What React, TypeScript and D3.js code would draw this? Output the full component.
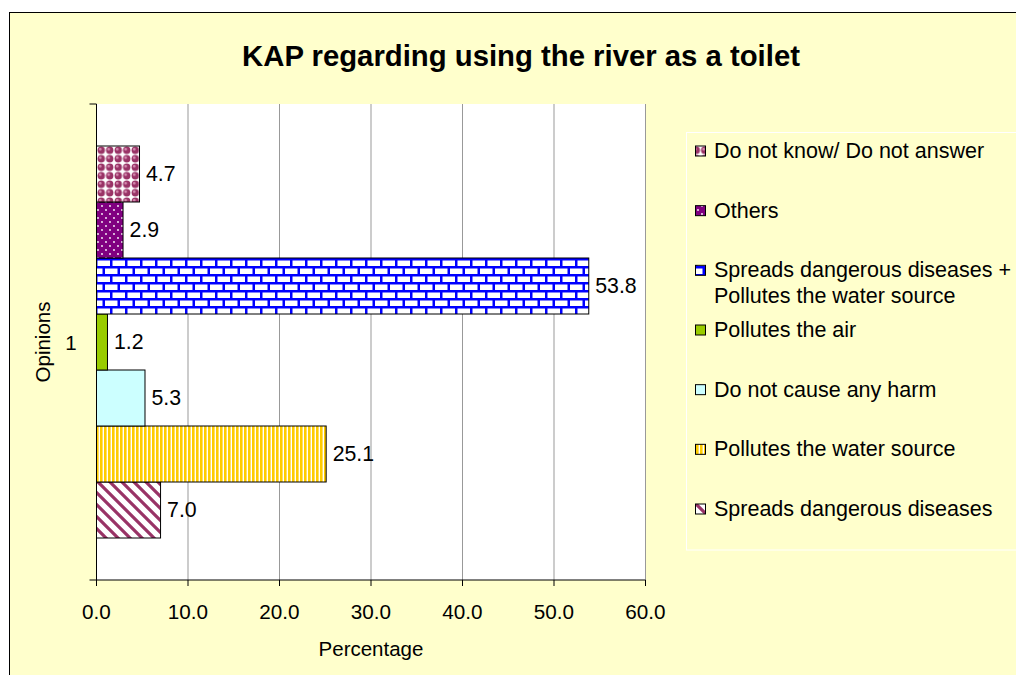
import React from "react";
import * as d3 from "d3";

// Opinion series, listed in plotting order (bottom bar first)
const seriesNames: string[] = [
  "Spreads dangerous diseases",
  "Pollutes the water source",
  "Do not cause any harm",
  "Pollutes the air",
  "Spreads dangerous diseases + Pollutes the water source",
  "Others",
  "Do not know/ Do not answer",
];
const seriesValues: number[] = [7.0, 25.1, 5.3, 1.2, 53.8, 2.9, 4.7];
const seriesFills: string[] = [
  "url(#pDiag)",
  "url(#pVert)",
  "#CCFFFF",
  "#99CC00",
  "url(#pBrick)",
  "url(#pDots)",
  "url(#pSphere)",
];
// Legend label lines per series
const legendLines: string[][] = [
  ["Spreads dangerous diseases"],
  ["Pollutes the water source"],
  ["Do not cause any harm"],
  ["Pollutes the air"],
  ["Spreads dangerous diseases +", "Pollutes the water source"],
  ["Others"],
  ["Do not know/ Do not answer"],
];
const categories: string[] = ["1"];
const xTicks: number[] = [0, 10, 20, 30, 40, 50, 60];

const W = 1016;
const H = 675;
const FONT = "'Liberation Sans', Arial, sans-serif";

export default function App() {
  const plot = { left: 96.5, right: 645.5, top: 104, bottom: 580 };
  const x = d3.scaleLinear().domain([0, 60]).range([plot.left, plot.right]);
  const yCat = d3.scaleBand<string>().domain(categories).range([plot.top, plot.bottom]);
  const bw = yCat.bandwidth();
  const barH = bw / (seriesNames.length + 1.5);
  const gap = (bw - barH * seriesNames.length) / 2;
  // series listed bottom-first, so reverse for top-down band order
  const ySer = d3
    .scaleBand<string>()
    .domain([...seriesNames].reverse())
    .range([gap, bw - gap]);

  const legendX = 686.5;
  const legendTop = 132.5;
  const legendRows = [...seriesNames.keys()].reverse();
  const legendY = d3
    .scalePoint<number>()
    .domain(legendRows)
    .range([151, 509]);

  const cat = categories[0];
  const catY = (yCat(cat) ?? 0) + bw / 2;

  return (
    <svg
      width={W}
      height={H}
      style={{ position: "absolute", left: 0, top: 0, fontFamily: FONT }}
    >
      <defs>
        <pattern id="pDiag" width="12" height="12" patternUnits="userSpaceOnUse">
          <rect width="12" height="12" fill="#fff" />
          <path d="M-3,-3 L15,15 M-3,9 L3,15 M9,-3 L15,3" stroke="#993366" strokeWidth="3.2" />
        </pattern>
        <pattern id="pVert" width="4" height="4" patternUnits="userSpaceOnUse">
          <rect width="4" height="4" fill="#fff" />
          <rect width="2.6" height="4" fill="#FFCC00" />
        </pattern>
        <pattern id="pBrick" width="15" height="16" patternUnits="userSpaceOnUse" x="96" y="259">
          <rect width="15" height="16" fill="#0000FF" />
          <rect x="1.5" y="1.5" width="12.5" height="5.5" fill="#fff" />
          <rect x="-6" y="9.5" width="12.5" height="5.5" fill="#fff" />
          <rect x="9" y="9.5" width="12.5" height="5.5" fill="#fff" />
        </pattern>
        <pattern id="pDots" width="8" height="8" patternUnits="userSpaceOnUse">
          <rect width="8" height="8" fill="#800080" />
          <circle cx="2" cy="2" r="0.9" fill="#fff" />
          <circle cx="6" cy="6" r="0.9" fill="#fff" />
        </pattern>
        <pattern id="pSphere" width="8.5" height="8.5" patternUnits="userSpaceOnUse" x="97" y="146">
          <rect width="8.5" height="8.5" fill="#fff" />
          <circle cx="4.25" cy="4.25" r="3.7" fill="#993366" />
          <circle cx="3.2" cy="3.2" r="1.3" fill="#D890B4" />
        </pattern>
      </defs>

      {/* chart area */}
      <rect x={9.5} y={12.5} width={W + 20} height={H + 20} fill="#FFFFCC" stroke="#000" />

      <text
        x={521}
        y={55}
        textAnchor="middle"
        dominantBaseline="central"
        fontSize={29.3}
        fontWeight="bold"
      >
        KAP regarding using the river as a toilet
      </text>

      {/* plot area */}
      <rect
        x={plot.left}
        y={plot.top}
        width={plot.right - plot.left}
        height={plot.bottom - plot.top}
        fill="#fff"
      />
      {xTicks.slice(1).map((t) => (
        <line key={t} x1={x(t)} x2={x(t)} y1={plot.top} y2={plot.bottom} stroke="#999" />
      ))}

      {/* bars */}
      {seriesNames.map((s, i) => {
        const y = (yCat(cat) ?? 0) + (ySer(s) ?? 0);
        return (
          <g key={s}>
            <rect
              x={x(0)}
              y={y}
              width={x(seriesValues[i]) - x(0)}
              height={ySer.bandwidth()}
              fill={seriesFills[i]}
              stroke="#000"
            />
            <text
              x={x(seriesValues[i]) + 6.5}
              y={y + ySer.bandwidth() / 2}
              dominantBaseline="central"
              fontSize={21.3}
            >
              {seriesValues[i].toFixed(1)}
            </text>
          </g>
        );
      })}

      {/* axes */}
      <line x1={plot.left} x2={plot.left} y1={plot.top} y2={plot.bottom} stroke="#000" />
      <line x1={plot.left - 7} x2={plot.left} y1={plot.top} y2={plot.top} stroke="#000" />
      <line x1={plot.left - 7} x2={plot.right} y1={plot.bottom} y2={plot.bottom} stroke="#000" />
      {xTicks.map((t) => (
        <g key={t}>
          <line x1={x(t)} x2={x(t)} y1={plot.bottom} y2={plot.bottom + 6} stroke="#000" />
          <text
            x={x(t)}
            y={611}
            textAnchor="middle"
            dominantBaseline="central"
            fontSize={20.7}
          >
            {t.toFixed(1)}
          </text>
        </g>
      ))}
      <text x={371} y={648} textAnchor="middle" dominantBaseline="central" fontSize={20.5}>
        Percentage
      </text>
      <text x={71} y={catY} textAnchor="middle" dominantBaseline="central" fontSize={20.5}>
        {cat}
      </text>
      <text
        transform={`translate(42,${catY}) rotate(-90)`}
        textAnchor="middle"
        dominantBaseline="central"
        fontSize={20.5}
      >
        Opinions
      </text>

      {/* legend */}
      <rect
        x={legendX}
        y={legendTop}
        width={W}
        height={550 - legendTop}
        fill="#FFFFCC"
        stroke="#fff"
      />
      {legendRows.map((i) => {
        const cy = legendY(i) ?? 0;
        return (
          <g key={i}>
            <rect x={695.5} y={cy - 5} width={10} height={10} fill={seriesFills[i]} stroke="#000" />
            {legendLines[i].map((ln, k) => (
              <text
                key={k}
                x={714}
                y={cy + k * 26}
                dominantBaseline="central"
                fontSize={21.5}
              >
                {ln}
              </text>
            ))}
          </g>
        );
      })}
    </svg>
  );
}
